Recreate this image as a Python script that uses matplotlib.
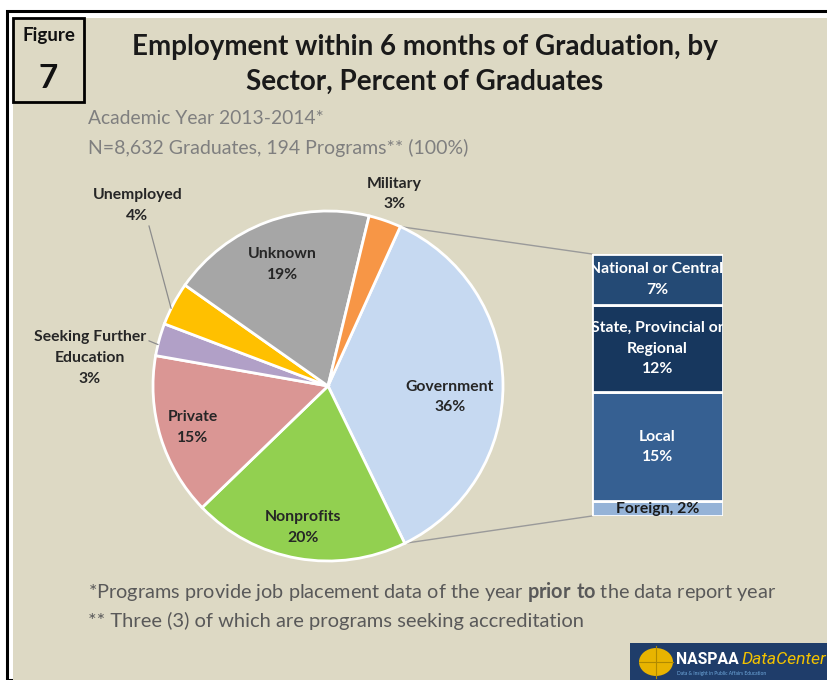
import matplotlib
matplotlib.use("Agg")
import matplotlib.pyplot as plt
from matplotlib.patches import Rectangle, Circle, ConnectionPatch
from matplotlib.lines import Line2D
import numpy as np

# ---------------- data ----------------
sectors = ["Government", "Nonprofits", "Private", "Seeking Further\nEducation",
           "Unemployed", "Unknown", "Military"]
sector_pct = [36, 20, 15, 3, 4, 19, 3]
sector_colors = ["#C6D9F1", "#92D050", "#DA9694", "#B1A0C7", "#FFC000", "#A6A6A6", "#F79646"]

gov_levels = ["Foreign", "Local", "State, Provincial or\nRegional", "National or Central,"]
gov_pct = [2, 15, 12, 7]
gov_colors = ["#95B3D7", "#366092", "#17375E", "#244A75"]

title = "Employment within 6 months of Graduation, by\nSector, Percent of Graduates"
subtitle1 = "Academic Year 2013-2014*"
subtitle2 = "N=8,632 Graduates, 194 Programs** (100%)"

W, H = 828, 680
BG = "#DDD9C4"
FONT = "Lato"
plt.rcParams["font.family"] = [FONT, "DejaVu Sans"]
plt.rcParams["mathtext.fontset"] = "custom"
plt.rcParams["mathtext.rm"] = "Lato"
plt.rcParams["mathtext.bf"] = "Lato:bold"

fig = plt.figure(figsize=(W / 100, H / 100), dpi=100)
fig.patch.set_facecolor("white")


def fx(x):
    return x / W


def fy(y):
    return 1 - y / H


# background panel and frame
fig.patches.append(Rectangle((fx(7), fy(680)), 1, fy(11) - fy(680), transform=fig.transFigure,
                             facecolor="white", edgecolor="black", lw=2.2, zorder=0))
fig.patches.append(Rectangle((fx(13), fy(680)), 1, fy(18) - fy(680), transform=fig.transFigure,
                             facecolor=BG, edgecolor="none", zorder=0.5))
# figure box
fig.patches.append(Rectangle((fx(13), fy(102)), fx(84) - fx(13), fy(18) - fy(102),
                             transform=fig.transFigure, facecolor=BG, edgecolor="black",
                             lw=2, zorder=1))
fig.text(fx(48.5), fy(36), "Figure", ha="center", va="center", fontsize=13.5,
         fontweight="bold", color="#111111")
fig.text(fx(48.5), fy(78), "7", ha="center", va="center", fontsize=24,
         fontweight="bold", color="#111111")

# title
fig.text(fx(425), fy(64.5), title, ha="center", va="center", fontsize=20,
         fontweight="bold", color="#1A1A1A", linespacing=1.42)
fig.text(fx(88), fy(118), subtitle1, ha="left", va="center", fontsize=13.9, color="#7F7F7F")
fig.text(fx(88), fy(148), subtitle2, ha="left", va="center", fontsize=14, color="#7F7F7F")

# footnotes
fig.text(fx(88), fy(592),
         r"*Programs provide job placement data of the year $\bf{prior\ to}$ the data report year",
         ha="left", va="center", fontsize=14.3, color="#595959")
fig.text(fx(88), fy(621), "** Three (3) of which are programs seeking accreditation",
         ha="left", va="center", fontsize=14.5, color="#595959")

# ---------------- pie ----------------
LFS = 11.3
LSP = 1.6
cx, cy, R = 328, 386, 175
axp = fig.add_axes([fx(cx - R), fy(cy + R), (2 * R) / W, (2 * R) / H])
axp.set_zorder(5)
axp.set_facecolor("none")
start = 65.6
wedges, _ = axp.pie(sector_pct, colors=sector_colors, startangle=start, counterclock=False,
                    wedgeprops=dict(edgecolor="white", linewidth=2))
axp.set_xlim(-1, 1)
axp.set_ylim(-1, 1)
axp.set_aspect("equal")
axp.axis("off")

label_r = [0.70, 0.82, 0.81, None, None, 0.74, 1.16]
label_txt = [f"{s}\n{p}%" for s, p in zip(sectors, sector_pct)]
for i, w in enumerate(wedges):
    mid = np.deg2rad((w.theta1 + w.theta2) / 2)
    if label_r[i] is not None:
        r = label_r[i]
        ang = mid + (np.deg2rad(-6) if i == 0 else 0)
        axp.text(r * np.cos(ang), r * np.sin(ang), label_txt[i], ha="center", va="center",
                 fontsize=LFS, fontweight="bold", color="#262626", linespacing=LSP,
                 clip_on=False)

# outside labels with leader lines
w = wedges[4]
mid = np.deg2rad((w.theta1 + w.theta2) / 2 + 1.7)
axp.annotate(label_txt[4], xy=(np.cos(mid), np.sin(mid)), xytext=(-1.09, 1.03),
             ha="center", va="center", fontsize=LFS, fontweight="bold", color="#262626",
             linespacing=LSP, annotation_clip=False,
             arrowprops=dict(arrowstyle="-", color="#8C8C8C", lw=0.9,
                             shrinkA=0, shrinkB=0,
                             connectionstyle="angle,angleA=0,angleB=105,rad=0",
                             relpos=(0.63, 0.22)))
w = wedges[3]
mid = np.deg2rad((w.theta1 + w.theta2) / 2 + 1.7)
axp.annotate(label_txt[3], xy=(np.cos(mid), np.sin(mid)), xytext=(-1.36, 0.16),
             ha="center", va="center", fontsize=LFS, fontweight="bold", color="#262626",
             linespacing=LSP, annotation_clip=False,
             arrowprops=dict(arrowstyle="-", color="#8C8C8C", lw=0.9,
                             shrinkA=0, shrinkB=0, relpos=(0.99, 0.84)))

# ---------------- bar of pie ----------------
bx0, bx1, by0, by1 = 592, 723, 254, 516
axb = fig.add_axes([fx(bx0), fy(by1), (bx1 - bx0) / W, (by1 - by0) / H])
axb.set_zorder(5)
axb.set_facecolor("none")
bottoms = np.concatenate([[0], np.cumsum(gov_pct)[:-1]])
axb.bar([0] * len(gov_pct), gov_pct, bottom=bottoms, width=1, color=gov_colors,
        edgecolor="white", linewidth=2)
axb.set_xlim(-0.5, 0.5)
axb.set_ylim(0, sum(gov_pct))
axb.axis("off")
for name, v, b in zip(gov_levels, gov_pct, bottoms):
    if v <= 2:
        axb.text(0, b + v / 2, f"{name}, {v}%", ha="center", va="center", fontsize=LFS,
                 fontweight="bold", color="#1A1A1A", clip_on=True)
    else:
        axb.text(0, b + v / 2, f"{name}\n{v}%", ha="center", va="center", fontsize=LFS,
                 fontweight="bold", color="white", linespacing=LSP, clip_on=True)

# connector lines
g = wedges[0]
for th, yb in [(g.theta1, 0), (g.theta2, sum(gov_pct))]:
    t = np.deg2rad(th)
    con = ConnectionPatch(xyA=(np.cos(t), np.sin(t)), coordsA=axp.transData,
                          xyB=(-0.5, yb), coordsB=axb.transData,
                          color="#9A9A9A", lw=1, zorder=4)
    fig.add_artist(con)

# ---------------- logo ----------------
fig.patches.append(Rectangle((fx(630), fy(680)), fx(828) - fx(630), fy(643) - fy(680),
                             transform=fig.transFigure, facecolor="#1F3D6A",
                             edgecolor="none", zorder=2))
fig.patches.append(Circle((fx(656), fy(662)), 17 / W, transform=fig.transFigure,
                          facecolor="#E8B400", edgecolor="none", zorder=3))
fig.lines.append(Line2D([fx(639), fx(673)], [fy(662), fy(662)], transform=fig.transFigure,
                        color="#B08A00", lw=0.8, zorder=3.5))
fig.lines.append(Line2D([fx(656), fx(656)], [fy(646), fy(678)], transform=fig.transFigure,
                        color="#B08A00", lw=0.8, zorder=3.5))
fig.text(fx(676), fy(660), "NASPAA", ha="left", va="center", fontsize=11.3,
         fontweight="bold", color="white", zorder=4, family="Roboto")
fig.text(fx(742), fy(660), "DataCenter", ha="left", va="center", fontsize=12.6,
         style="italic", color="#F2C200", zorder=4, family="Roboto")
fig.text(fx(677), fy(674), "Data & Insight in Public Affairs Education", ha="left",
         va="center", fontsize=3.5, color="#6FA8DC", zorder=4)

fig.savefig("out.png", dpi=100, facecolor=fig.get_facecolor())
